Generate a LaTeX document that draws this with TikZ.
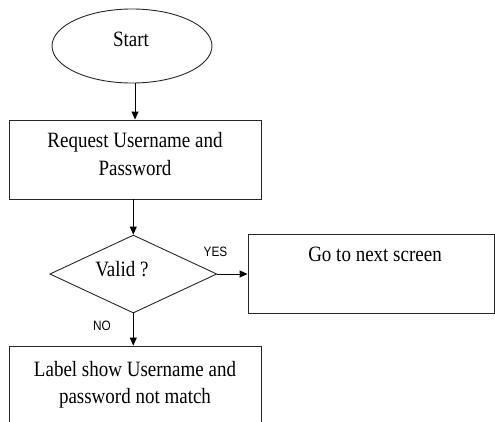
\documentclass[tikz,border=0pt]{standalone}
\usepackage{fontspec}
\setmainfont{Liberation Serif}
\newfontfamily\labelsans{Liberation Sans}
\usetikzlibrary{shapes.geometric,arrows.meta}

% text is set slightly tall, as in the original drawing
\newcommand\tall[1]{\scalebox{1}[1.15]{#1}}

\tikzset{
  box/.style={draw=black!85, line width=0.9pt, rectangle, inner sep=0pt},
  term/.style={draw=black!85, line width=0.9pt, ellipse, inner sep=0pt},
  decide/.style={draw=black!85, line width=0.9pt, diamond, inner sep=0pt},
  txt/.style={anchor=base, inner sep=0pt, font=\fontsize{19}{23}\selectfont},
  tag/.style={anchor=base, inner sep=0pt, font=\labelsans\fontsize{11.8}{14}\selectfont},
  flow/.style={draw=black, line width=0.9pt, -{Triangle[length=8pt,width=7pt]}}
}

\begin{document}
\begin{tikzpicture}[x=1pt, y=-1pt]
  \useasboundingbox (0,0) rectangle (495,421);
  \clip (0,0) rectangle (495,421);

  % shapes
  \node[term, minimum width=160pt, minimum height=74pt] (start) at (132,46) {};
  \node[box, minimum width=252pt, minimum height=79pt] (req) at (135,159.5) {};
  \node[decide, minimum width=167pt, minimum height=78pt] (valid) at (133.3,274) {};
  \node[box, minimum width=246pt, minimum height=79pt] (next) at (371,273.5) {};
  \node[box, minimum width=252pt, minimum height=79pt] (fail) at (135,385.5) {};

  % texts
  \node[txt] (tstart) at (131,46) {\tall{Start}};
  \node[txt] (treq1) at (135,147.3) {\tall{Request Username and}};
  \node[txt] (treq2) at (135,175) {\tall{Password}};
  \node[txt] (tvalid) at (122,276) {\tall{Valid ?}};
  \node[txt] (tnext) at (375,261.7) {\tall{Go to next screen}};
  \node[txt] (tfail1) at (135,376.5) {\tall{Label show Username and}};
  \node[txt] (tfail2) at (135,403.5) {\tall{password not match}};
  \node[tag] (yes) at (215.5,256.7) {\tall{YES}};
  \node[tag] (no) at (102,330.7) {\tall{NO}};

  % connectors
  \draw[flow] (start.south -| 135,0) -- (req.north -| 135,0);
  \draw[flow] (req.south -| valid.north) -- (valid.north);
  \draw[flow] (valid.east) -- (valid.east -| next.west);
  \draw[flow] (valid.south) -- (valid.south |- fail.north);
\end{tikzpicture}
\end{document}
